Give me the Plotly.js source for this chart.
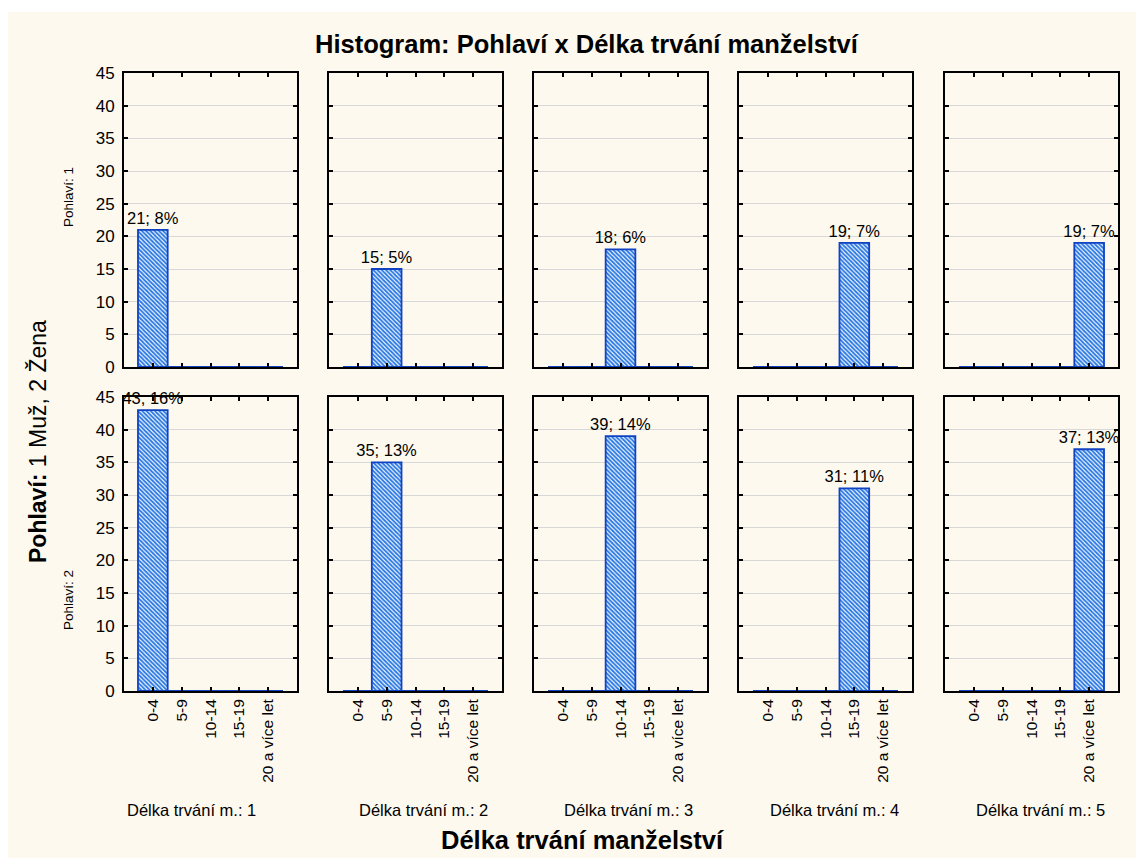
<!DOCTYPE html>
<html>
<head>
<meta charset="utf-8">
<script src="https://cdn.plot.ly/plotly-3.0.1.min.js"></script>
<style>html,body{margin:0;padding:0;background:#fff;}#chart{width:1136px;height:858px;}</style>
</head>
<body>
<div id="chart"></div>
<script>
const categories = ['0-4', '5-9', '10-14', '15-19', '20 a více let'];
const menCounts = [21, 15, 18, 19, 19];
const menPct = [8, 5, 6, 7, 7];
const womenCounts = [43, 35, 39, 31, 37];
const womenPct = [16, 13, 14, 11, 13];
const groupLabels = ['Délka trvání m.: 1', 'Délka trvání m.: 2', 'Délka trvání m.: 3', 'Délka trvání m.: 4', 'Délka trvání m.: 5'];
const rowLabels = ['Pohlaví: 1', 'Pohlaví: 2'];
const yTicks = [0, 5, 10, 15, 20, 25, 30, 35, 40, 45];

const W = 1136, H = 858;
const FONT = 'Liberation Sans, Arial, sans-serif';
const panelLefts = [124, 329, 534, 739, 945];
const panelW = 173;
const rowTops = [73, 397];
const panelH = 294;
const groupLabelX = [191, 423, 628, 834, 1040];
const rowLabelY = [197, 600];

const rows = [
  {counts: menCounts, pct: menPct},
  {counts: womenCounts, pct: womenPct}
];

const traces = [];
const layout = {
  width: W, height: H,
  margin: {l: 0, r: 0, t: 0, b: 0},
  paper_bgcolor: '#ffffff',
  plot_bgcolor: '#ffffff',
  showlegend: false,
  bargap: 0,
  font: {family: FONT, color: '#000'},
  shapes: [{
    type: 'rect', xref: 'paper', yref: 'paper', layer: 'below',
    x0: 8 / W, x1: 1, y0: 0, y1: 1 - 12 / H,
    fillcolor: '#fdf9ee', line: {width: 0}
  }],
  annotations: []
};

rows.forEach((row, r) => {
  for (let c = 0; c < 5; c++) {
    const idx = r * 5 + c + 1;
    const sfx = idx === 1 ? '' : String(idx);
    const yvals = categories.map((_, i) => (i === c ? row.counts[c] : 0));
    const texts = categories.map((_, i) => (i === c ? row.counts[c] + '; ' + row.pct[c] + '%' : ''));
    traces.push({
      type: 'bar',
      x: categories,
      y: yvals,
      text: texts,
      textposition: 'outside',
      constraintext: 'none',
      cliponaxis: false,
      textfont: {family: FONT, size: 16.5, color: '#000'},
      width: 1.03,
      marker: {
        color: '#3d8be8',
        pattern: {shape: '\\', fgcolor: '#2a78e2', bgcolor: '#f4f9ff', size: 3, solidity: 0.62},
        line: {color: '#0f43c4', width: 1.8}
      },
      hoverinfo: 'skip',
      xaxis: 'x' + sfx,
      yaxis: 'y' + sfx
    });
    const x0 = panelLefts[c] / W, x1 = (panelLefts[c] + panelW) / W;
    const y1 = 1 - rowTops[r] / H, y0 = 1 - (rowTops[r] + panelH) / H;
    layout['xaxis' + sfx] = {
      domain: [x0, x1],
      anchor: 'y' + sfx,
      type: 'category',
      categoryorder: 'array',
      categoryarray: categories,
      range: [-1, 5],
      showline: true, linecolor: '#000', linewidth: 2, mirror: 'ticks',
      ticks: 'inside', ticklen: 4, tickwidth: 2, tickcolor: '#000',
      showgrid: false, zeroline: false,
      showticklabels: r === 1,
      tickangle: -90,
      tickfont: {family: FONT, size: 15.5, color: '#000'},
      fixedrange: true
    };
    layout['yaxis' + sfx] = {
      domain: [y0, y1],
      anchor: 'x' + sfx,
      range: [0, 45],
      tickvals: yTicks,
      showline: true, linecolor: '#000', linewidth: 2, mirror: 'ticks',
      ticks: 'inside', ticklen: 4, tickwidth: 2, tickcolor: '#000',
      showgrid: true, gridcolor: '#d8d8d8', gridwidth: 1,
      zeroline: false,
      showticklabels: c === 0,
      tickfont: {family: FONT, size: 17, color: '#000'},
      ticklabelstandoff: 4,
      fixedrange: true
    };
  }
});

groupLabels.forEach((t, c) => {
  layout.annotations.push({
    text: t, xref: 'paper', yref: 'paper', x: groupLabelX[c] / W, y: 1 - 810 / H,
    xanchor: 'center', yanchor: 'middle', showarrow: false,
    font: {family: FONT, size: 16.5, color: '#000'}
  });
});
rowLabels.forEach((t, r) => {
  layout.annotations.push({
    text: t, xref: 'paper', yref: 'paper', x: 68 / W, y: 1 - rowLabelY[r] / H,
    xanchor: 'center', yanchor: 'middle', showarrow: false, textangle: -90,
    font: {family: FONT, size: 13.5, color: '#000'}
  });
});
layout.annotations.push({
  text: '<b>Histogram: Pohlaví x Délka trvání manželství</b>',
  xref: 'paper', yref: 'paper', x: 587 / W, y: 1 - 44 / H,
  xanchor: 'center', yanchor: 'middle', showarrow: false,
  font: {family: FONT, size: 25.5, color: '#000'}
});
layout.annotations.push({
  text: '<b>Délka trvání manželství</b>',
  xref: 'paper', yref: 'paper', x: 582 / W, y: 1 - 840 / H,
  xanchor: 'center', yanchor: 'middle', showarrow: false,
  font: {family: FONT, size: 25.5, color: '#000'}
});
layout.annotations.push({
  text: '<b>Pohlaví:</b> 1 Muž, 2 Žena',
  xref: 'paper', yref: 'paper', x: 38 / W, y: 1 - 442 / H,
  xanchor: 'center', yanchor: 'middle', showarrow: false, textangle: -90,
  font: {family: FONT, size: 23, color: '#000'}
});

Plotly.newPlot('chart', traces, layout, {displayModeBar: false, staticPlot: true});
</script>
</body>
</html>
